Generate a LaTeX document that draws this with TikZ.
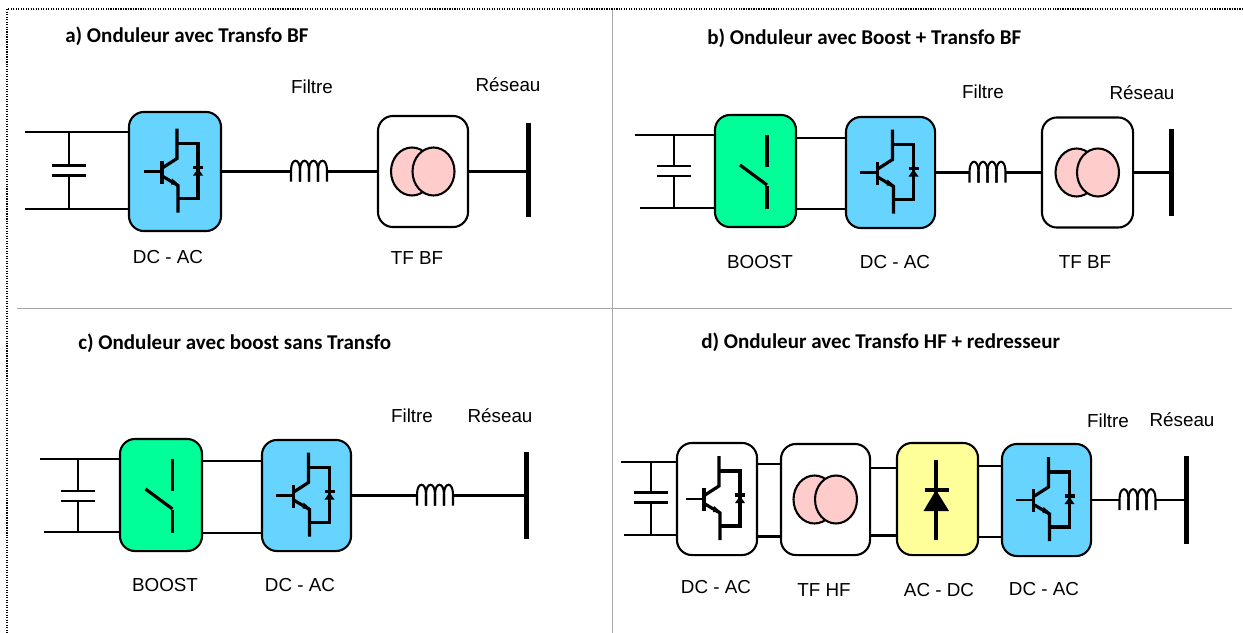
\documentclass[tikz,border=0pt]{standalone}
\usepackage{fontspec}
\setmainfont{Liberation Sans}
\newfontfamily\titlefont{Carlito}
\tikzset{
  wire/.style={line width=1.5pt},
  thick wire/.style={line width=2.3pt},
  block/.style={draw,line width=1.5pt,rounded corners=0.15in,inner sep=0pt},
  igbtblock/.style={block,fill=igbtblue},
  boostblock/.style={block,fill=boostgreen},
  rectblock/.style={block,fill=rectyellow},
  grid/.style={line width=0.6pt,draw=gridgray},
  busbar/.style={fill=black,minimum width=0.05in,inner sep=0pt,outer sep=0pt},
  lbl/.style={font=\fontsize{13.6pt}{16pt}\selectfont,inner sep=0pt},
  heading/.style={font=\titlefont\bfseries\fontsize{15.2pt}{18pt}\selectfont,inner sep=0pt,anchor=west},
  pics/igbt/.style={code={
    \draw[wire] (-31,0) -- (-13,0);
    \draw[thick wire] (-13,-11) -- (-13,12);
    \draw[thick wire] (-12,-4) -- (2,-13) -- (2,-43);
    \draw[thick wire] (-12,5) -- (3,14) -- (3,41);
    \fill (-3,7) -- (4,13) -- (-4,13) -- cycle;
    \draw[thick wire] (2,-28) -- (23,-28) -- (23,27) -- (3,27);
    \fill (23,-3) -- (28,4) -- (18,4) -- cycle;
    \draw[thick wire] (18,-4) -- (28,-4);
  }},
  pics/trafo/.style={code={
    \draw[wire,fill=trafopink] (-11,0) ellipse (21 and 24);
    \draw[wire,fill=trafopink] (10.5,0) ellipse (21 and 24);
  }},
  pics/switch/.style={code={
    \draw[thick wire] (11.5,-36) -- (11.5,-4);
    \draw[thick wire] (11.5,15) -- (11.5,38);
    \draw[thick wire] (-15.5,-6) -- (11.5,14);
  }},
  pics/rect/.style={code={
    \draw[thick wire] (-1.5,-39) -- (-1.5,41);
    \draw[thick wire] (-13,-9) -- (11,-9);
    \fill (-1.5,-9) -- (11.5,12) -- (-14,12) -- cycle;
  }},
  pics/capa/.style={code={
    \draw[wire] (-17,-5) -- (17,-5);
    \draw[wire] (-17,5) -- (17,5);
    \coordinate (-p) at (0,-5);
    \coordinate (-n) at (0,5);
  }},
  pics/coil/.style={code={
    \coordinate (-w) at (-18,0);
    \coordinate (-e) at (18,0);
    \foreach \i in {0,1,2,3}
      \draw[wire] (-18+\i*9,10) -- ++(0,-11) .. controls +(0,-13) and +(0,-13) .. ++(9,0) -- ++(0,11);
  }}
}
\definecolor{igbtblue}{HTML}{66D4FF}
\definecolor{boostgreen}{HTML}{00FF99}
\definecolor{rectyellow}{HTML}{FFFF99}
\definecolor{trafopink}{HTML}{FFCCCC}
\definecolor{gridgray}{HTML}{A6A6A6}
\begin{document}
\begin{tikzpicture}[x=0.01in,y=-0.01in]
  \useasboundingbox (0,0) rectangle (1243,633);
  \draw[line width=0.8pt,densely dotted] (1243,9) -- (7,9) -- (7,633);
  \draw[grid] (612,10) -- (612,633);
  \draw[grid] (17,308) -- (1232,308);

  \node[heading] (atitle) at (65,36) {a) Onduleur avec Transfo BF};
  \coordinate (a0t) at (25,132);
  \coordinate (a0b) at (25,209);
  \pic (a0) at (69,170.5) {capa};
  \node[igbtblock,minimum width=0.92in,minimum height=1.19in] (a1) at (175,171.5) {};
  \pic at (a1) {igbt};
  \pic (a2) at (309,171.5) {coil};
  \node[block,minimum width=0.90in,minimum height=1.11in] (a3) at (423,171.5) {};
  \pic at (a3) {trafo};
  \node[busbar,minimum height=0.94in] (a4) at (528,170) {};
  \draw[wire] (a0t) -- (a0t -| a1.west);
  \draw[wire] (a0b) -- (a0b -| a1.west);
  \draw[wire] (a0-p) -- (a0-p |- a0t);
  \draw[wire] (a0-n) -- (a0-n |- a0b);
  \draw[wire] (a1.east) -- (a2-w);
  \draw[wire] (a2-e) -- (a3.west);
  \draw[wire] (a3.east) -- (a3.east -| a4.west);
  \node[lbl] (a1l) at (168,257) {DC - AC};
  \node[lbl] (a3l) at (417,258) {TF BF};
  \node[lbl] (a2l) at (312,87) {Filtre};
  \node[lbl] (a4l) at (508,85) {Réseau};

  \node[heading] (btitle) at (707,38) {b) Onduleur avec Boost + Transfo BF};
  \coordinate (b0t) at (635,135);
  \coordinate (b0b) at (640,208);
  \coordinate (b1t) at (796,138);
  \coordinate (b1b) at (796,209);
  \pic (b0) at (674,171) {capa};
  \node[boostblock,minimum width=0.81in,minimum height=1.12in] (b1) at (755.5,171) {};
  \pic at (b1) {switch};
  \node[igbtblock,minimum width=0.89in,minimum height=1.11in] (b2) at (890.5,172.5) {};
  \pic at (b2) {igbt};
  \pic (b3) at (987.5,172.5) {coil};
  \node[block,minimum width=0.91in,minimum height=1.10in] (b4) at (1087.5,172.5) {};
  \pic at (b4) {trafo};
  \node[busbar,minimum height=0.87in] (b5) at (1171,172.5) {};
  \draw[wire] (b0t) -- (b0t -| b1.west);
  \draw[wire] (b0b) -- (b0b -| b1.west);
  \draw[wire] (b0-p) -- (b0-p |- b0t);
  \draw[wire] (b0-n) -- (b0-n |- b0b);
  \draw[wire] (b1t -| b1.east) -- (b1t -| b2.west);
  \draw[wire] (b1b -| b1.east) -- (b1b -| b2.west);
  \draw[wire] (b2.east) -- (b3-w);
  \draw[wire] (b3-e) -- (b4.west);
  \draw[wire] (b4.east) -- (b5.west);
  \node[lbl] (b1l) at (760,262) {BOOST};
  \node[lbl] (b2l) at (895,262) {DC - AC};
  \node[lbl] (b4l) at (1085,262) {TF BF};
  \node[lbl] (b3l) at (983,92) {Filtre};
  \node[lbl] (b5l) at (1142,93) {Réseau};

  \node[heading] (ctitle) at (78,343) {c) Onduleur avec boost sans Transfo};
  \coordinate (c0t) at (40,459);
  \coordinate (c0b) at (44,532);
  \coordinate (c1t) at (202,461);
  \coordinate (c1b) at (202,533);
  \pic (c0) at (78,496) {capa};
  \node[boostblock,minimum width=0.82in,minimum height=1.12in] (c1) at (161,495) {};
  \pic at (c1) {switch};
  \node[igbtblock,minimum width=0.89in,minimum height=1.11in] (c2) at (306.5,495.5) {};
  \pic at (c2) {igbt};
  \pic (c3) at (435,495.5) {coil};
  \node[busbar,minimum height=0.87in] (c4) at (526,495.5) {};
  \draw[wire] (c0t) -- (c0t -| c1.west);
  \draw[wire] (c0b) -- (c0b -| c1.west);
  \draw[wire] (c0-p) -- (c0-p |- c0t);
  \draw[wire] (c0-n) -- (c0-n |- c0b);
  \draw[wire] (c1t -| c1.east) -- (c1t -| c2.west);
  \draw[wire] (c1b -| c1.east) -- (c1b -| c2.west);
  \draw[wire] (c2.east) -- (c3-w);
  \draw[wire] (c3-e) -- (c4.west);
  \node[lbl] (c1l) at (165,585) {BOOST};
  \node[lbl] (c2l) at (300,585) {DC - AC};
  \node[lbl] (c3l) at (412,416) {Filtre};
  \node[lbl] (c4l) at (500,416) {Réseau};

  \node[heading] (dtitle) at (701,342) {d) Onduleur avec Transfo HF + redresseur};
  \coordinate (d0t) at (621,462);
  \coordinate (d0b) at (624,535);
  \coordinate (d1t) at (757,464);
  \coordinate (d1b) at (757,536.5);
  \coordinate (d2t) at (870,468);
  \coordinate (d2b) at (870,535.5);
  \coordinate (d3t) at (978,466);
  \coordinate (d3b) at (978,537);
  \pic (d0) at (651,497.5) {capa};
  \node[block,minimum width=0.80in,minimum height=1.12in] (d1) at (717,499) {};
  \pic at (d1) {igbt};
  \node[block,minimum width=0.89in,minimum height=1.11in] (d2) at (825.5,499.5) {};
  \pic at (d2) {trafo};
  \node[rectblock,minimum width=0.81in,minimum height=1.12in] (d3) at (937.5,499) {};
  \pic at (d3) {rect};
  \node[igbtblock,minimum width=0.89in,minimum height=1.12in] (d4) at (1046.5,500) {};
  \pic at (d4) {igbt};
  \pic (d5) at (1137.5,500) {coil};
  \node[busbar,minimum height=0.87in] (d6) at (1186,500) {};
  \draw[wire] (d0t) -- (d0t -| d1.west);
  \draw[wire] (d0b) -- (d0b -| d1.west);
  \draw[wire] (d0-p) -- (d0-p |- d0t);
  \draw[wire] (d0-n) -- (d0-n |- d0b);
  \draw[wire] (d1t -| d1.east) -- (d1t -| d2.west);
  \draw[wire] (d1b -| d1.east) -- (d1b -| d2.west);
  \draw[wire] (d2t -| d2.east) -- (d2t -| d3.west);
  \draw[wire] (d2b -| d2.east) -- (d2b -| d3.west);
  \draw[wire] (d3t -| d3.east) -- (d3t -| d4.west);
  \draw[wire] (d3b -| d3.east) -- (d3b -| d4.west);
  \draw[wire] (d4.east) -- (d5-w);
  \draw[wire] (d5-e) -- (d6.west);
  \node[lbl] (d1l) at (716,587) {DC - AC};
  \node[lbl] (d2l) at (824,590) {TF HF};
  \node[lbl] (d3l) at (939,590) {AC - DC};
  \node[lbl] (d4l) at (1044,589) {DC - AC};
  \node[lbl] (d5l) at (1108,421) {Filtre};
  \node[lbl] (d6l) at (1182,420) {Réseau};
\end{tikzpicture}
\end{document}
